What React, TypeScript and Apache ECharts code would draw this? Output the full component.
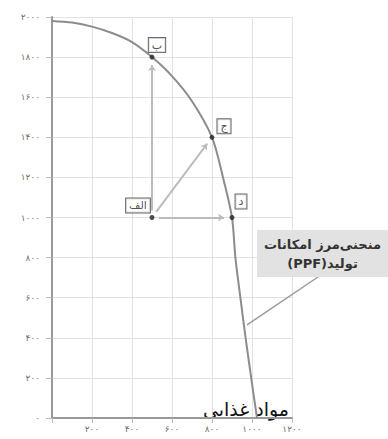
import React, { useEffect, useRef } from "react";
import * as echarts from "echarts";

// PPF curve (x: مواد غذایی, y: other good)
const CURVE_X = [0, 100, 200, 300, 400, 500, 600, 700, 800, 855, 900, 917, 942, 968, 996, 1025];
const CURVE_Y = [1980, 1972, 1952, 1920, 1875, 1800, 1705, 1580, 1400, 1200, 1000, 800, 600, 400, 200, 0];

// labelled points
const POINT_NAMES = ["الف", "ب", "ج", "د"];
const POINT_X = [500, 500, 800, 900];
const POINT_Y = [1000, 1800, 1400, 1000];

// arrows: from point index -> to point index
const ARROW_FROM = [0, 0, 0];
const ARROW_TO = [1, 2, 3];

// axes
const X_MAX = 1200;
const Y_MAX = 2000;
const TICK_STEP = 200;

// annotation
const PPF_TEXT_1 = "منحنی\u200Cمرز امکانات";
const PPF_TEXT_2 = "تولید(PPF)";
const PPF_ANCHOR = [975, 465];
const X_NAME = "مواد غذایی";

const FA_DIGITS = "۰۱۲۳۴۵۶۷۸۹";
const toFa = (v: number) => String(v).replace(/\d/g, (d) => FA_DIGITS[+d]);
const rtl = (s: string) => "\u202B" + s + "\u202C";

const FONT = "DejaVu Sans";

// label offsets (px) relative to each point's centre
const LABEL_OFFSETS: [number, number][] = [
  [-14, -12],
  [5, -12],
  [12, -11],
  [9, -16],
];

export default function App() {
  const ref = useRef<HTMLDivElement>(null);
  useEffect(() => {
    document.body.style.margin = "0";
    const chart = echarts.init(ref.current!, undefined, { renderer: "svg" });

    const curveData = CURVE_X.map((x, i) => [x, CURVE_Y[i]]);
    const pointData = POINT_X.map((x, i) => ({
      value: [x, POINT_Y[i]],
      name: POINT_NAMES[i],
      label: { offset: LABEL_OFFSETS[i] },
    }));
    const START_GAP = 35;
    const END_GAP = 40;
    const arrowData = ARROW_FROM.map((f, i) => {
      const t = ARROW_TO[i];
      const x0 = POINT_X[f], y0 = POINT_Y[f];
      const x1 = POINT_X[t], y1 = POINT_Y[t];
      const len = Math.hypot(x1 - x0, y1 - y0);
      const ux = (x1 - x0) / len, uy = (y1 - y0) / len;
      return {
        coords: [
          [x0 + ux * START_GAP, y0 + uy * START_GAP],
          [x1 - ux * END_GAP, y1 - uy * END_GAP],
        ],
      };
    });

    chart.setOption({
      animation: false,
      backgroundColor: "#ffffff",
      textStyle: { fontFamily: FONT },
      grid: { left: 52, right: 96, top: 17, bottom: 21, containLabel: false },
      xAxis: {
        type: "value",
        min: 0,
        max: X_MAX,
        interval: TICK_STEP,
        name: X_NAME,
        nameLocation: "end",
        nameGap: -3,
        nameTextStyle: {
          fontFamily: FONT,
          fontSize: 19,
          color: "#111",
          align: "right",
          verticalAlign: "bottom",
          padding: [0, 0, 0, 0],
        },
        axisLine: { show: true, lineStyle: { color: "#999", width: 2 } },
        axisTick: { show: true, length: 5, lineStyle: { color: "#bbb" } },
        axisLabel: {
          formatter: (v: number) => (v === 0 ? "" : toFa(v)),
          fontSize: 9,
          color: "#6f6f6f",
          margin: 6,
          fontFamily: FONT,
        },
        splitLine: { show: true, lineStyle: { color: "#e2e2e2", width: 1 } },
      },
      yAxis: {
        type: "value",
        min: 0,
        max: Y_MAX,
        interval: TICK_STEP,
        axisLine: { show: true, lineStyle: { color: "#999", width: 2 } },
        axisTick: { show: true, length: 6, lineStyle: { color: "#bbb" } },
        axisLabel: {
          formatter: (v: number) => toFa(v),
          fontSize: 9,
          color: "#6f6f6f",
          margin: 12,
          fontFamily: FONT,
        },
        splitLine: { show: true, lineStyle: { color: "#e2e2e2", width: 1 } },
      },
      series: [
        {
          type: "line",
          data: curveData,
          smooth: 0.3,
          showSymbol: false,
          lineStyle: { color: "#8c8c8c", width: 2 },
          z: 3,
        },
        {
          type: "lines",
          coordinateSystem: "cartesian2d",
          data: arrowData,
          symbol: ["none", "arrow"],
          symbolSize: 6,
          lineStyle: { color: "#bcbcbc", width: 2, opacity: 1, curveness: 0 },
          z: 2,
        },
        {
          type: "scatter",
          data: pointData,
          symbol: "circle",
          symbolSize: 5,
          itemStyle: { color: "#222" },
          label: {
            show: true,
            position: "inside",
            formatter: "{b}",
            fontFamily: FONT,
            fontSize: 11,
            color: "#222",
            backgroundColor: "#ffffff",
            borderColor: "#444",
            borderWidth: 1,
            padding: [2, 3, 1, 3],
          },
          z: 5,
        },
      ],
    });

    const anchor = chart.convertToPixel({ gridIndex: 0 }, PPF_ANCHOR) as number[];
    const boxX = 257, boxY = 230, boxW = 131, boxH = 47;
    chart.setOption({
      graphic: [
        {
          type: "line",
          shape: { x1: anchor[0], y1: anchor[1], x2: 318, y2: boxY + boxH },
          style: { stroke: "#9a9a9a", lineWidth: 1.5 },
          z: 10,
        },
        {
          type: "rect",
          shape: { x: boxX, y: boxY, width: boxW, height: boxH },
          style: { fill: "#e2e2e2" },
          z: 11,
        },
        {
          type: "text",
          x: boxX + boxW / 2,
          y: boxY + 14,
          style: {
            text: rtl(PPF_TEXT_1),
            fontFamily: FONT,
            fontSize: 13,
            fontWeight: "bold",
            fill: "#333",
            align: "center",
            verticalAlign: "middle",
          },
          z: 12,
        },
        {
          type: "text",
          x: boxX + boxW / 2,
          y: boxY + 33,
          style: {
            text: rtl(PPF_TEXT_2),
            fontFamily: FONT,
            fontSize: 13,
            fontWeight: "bold",
            fill: "#333",
            align: "center",
            verticalAlign: "middle",
          },
          z: 12,
        },
      ],
    });

    return () => chart.dispose();
  }, []);
  return <div ref={ref} style={{ width: 388, height: 439 }} />;
}
